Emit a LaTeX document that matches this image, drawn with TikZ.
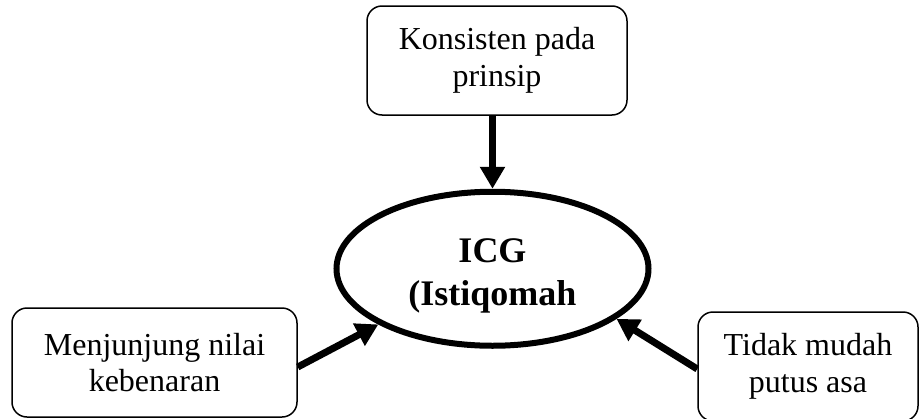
\documentclass[tikz,border=0pt]{standalone}
\usepackage{fontspec}
\setmainfont{Liberation Serif}
\usetikzlibrary{arrows.meta,shapes.geometric}
\begin{document}
\begin{tikzpicture}[x=1pt,y=-1pt,
  box/.style={draw, rounded corners=15pt, line width=1.5pt, align=center,
    font=\fontsize{32}{36.5}\selectfont, inner sep=0pt, minimum height=109pt},
  conn/.style={line width=7pt, -{Triangle[length=22pt,width=24pt]}}]
\path[use as bounding box] (0,0) rectangle (919,418);
\node[box, minimum width=260pt] (T) at (497,60.5) {Konsisten pada\\prinsip};
\node[box, minimum width=285pt] (L) at (154.5,362.5) {Menjunjung nilai\\kebenaran};
\node[box, minimum width=220pt] (R) at (808,366.5) {Tidak mudah\\putus asa};
\node[draw, ellipse, line width=6pt, minimum width=312pt, minimum height=154pt, inner sep=0pt] (E) at (492.5,268.75) {};
\node[font=\fontsize{36}{43}\selectfont\bfseries, align=center, inner sep=0pt] (Et) at (492.5,275.5) {ICG\\(Istiqomah};
\draw[conn] (T.south -| E.north) -- (E.north);
\draw[conn] ([yshift=-4.5pt]L.east) -- (E.206.6);
\draw[conn] ([yshift=-2.5pt]R.west) -- (E.338.6);
\end{tikzpicture}
\end{document}
